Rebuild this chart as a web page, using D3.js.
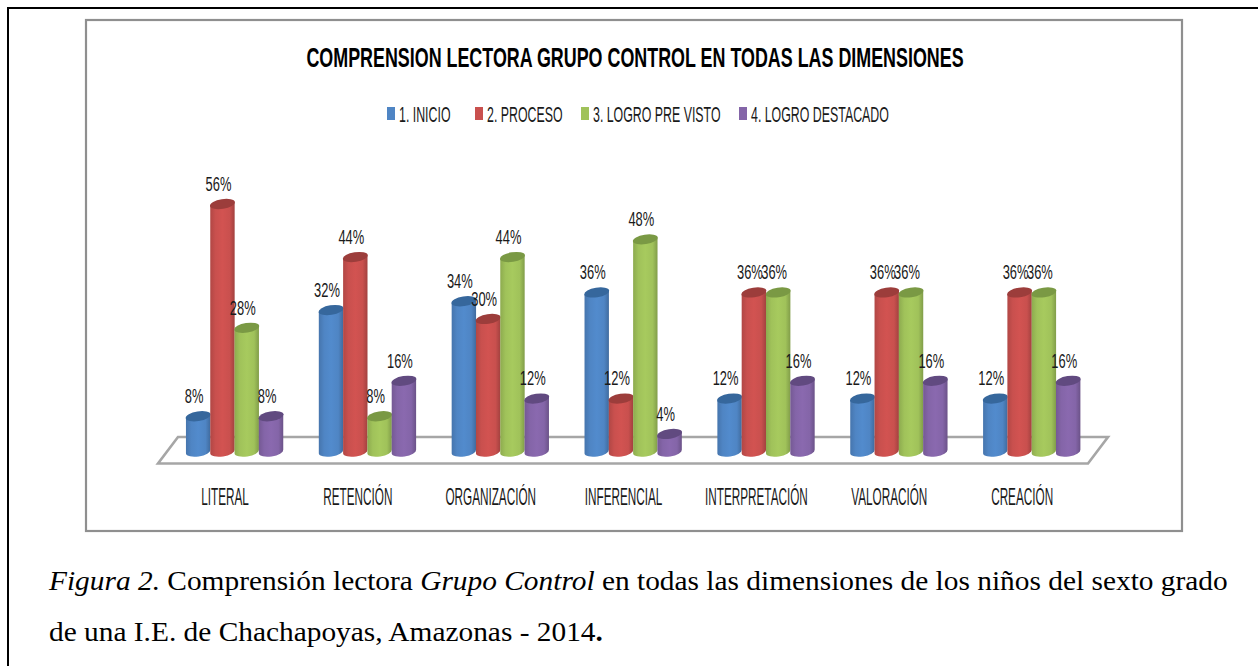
<!DOCTYPE html>
<html>
<head>
<meta charset="utf-8">
<script src="https://cdn.jsdelivr.net/npm/d3@7"></script>
<style>
  html, body { margin: 0; padding: 0; background: #fff; overflow: hidden; }
  svg { display: block; }
  .narrow { font-family: "Liberation Sans", sans-serif; }
  .caption { font-family: "Liberation Serif", serif; font-size: 26.5px; fill: #000; }
</style>
</head>
<body>
<div id="chart"></div>
<script>
// datos
const categories = ["LITERAL", "RETENCIÓN", "ORGANIZACIÓN", "INFERENCIAL", "INTERPRETACIÓN", "VALORACIÓN", "CREACIÓN"];
const seriesNames = ["1. INICIO", "2. PROCESO", "3. LOGRO PRE VISTO", "4. LOGRO DESTACADO"];
const inicio = [8, 32, 34, 36, 12, 12, 12];
const proceso = [56, 44, 30, 12, 36, 36, 36];
const logro = [28, 8, 44, 48, 36, 36, 36];
const destacado = [8, 16, 12, 4, 16, 16, 16];
const allSeries = [inicio, proceso, logro, destacado];
const colors = ["#4f85c4", "#c9504e", "#a0c25a", "#8465a8"];
const darkTops = ["#36679c", "#9c3d3b", "#7a9944", "#614a80"];

const W = 1258, H = 666;
const svg = d3.select("#chart").append("svg").attr("width", W).attr("height", H);
const defs = svg.append("defs");

// texto condensado: no hay fuente narrow instalada, se comprime en x
function narrowText(px, py, sx, size, str, anchor) {
    return svg.append("text").attr("class", "narrow")
        .attr("transform", `translate(${px},${py}) scale(${sx},1)`)
        .attr("text-anchor", anchor || "middle")
        .attr("font-size", size)
        .attr("fill", "#1a1a1a")
        .text(str);
}

// gradiente horizontal para simular el cilindro
colors.forEach((c, i) => {
    const g = defs.append("linearGradient").attr("id", "cyl" + i);
    const base = d3.color(c);
    g.append("stop").attr("offset", "0%").attr("stop-color", base.darker(0.35));
    g.append("stop").attr("offset", "22%").attr("stop-color", base);
    g.append("stop").attr("offset", "50%").attr("stop-color", base.brighter(0.12));
    g.append("stop").attr("offset", "80%").attr("stop-color", base);
    g.append("stop").attr("offset", "100%").attr("stop-color", base.darker(0.6));
});

// marcos
svg.append("rect").attr("x", 8).attr("y", 8).attr("width", W + 20).attr("height", H + 20)
    .attr("fill", "none").attr("stroke", "#000").attr("stroke-width", 2);
svg.append("rect").attr("x", 86).attr("y", 20).attr("width", 1096).attr("height", 511)
    .attr("fill", "#fff").attr("stroke", "#8f8f8f").attr("stroke-width", 2.2);

// escalas
const x = d3.scaleBand().domain(categories).range([158, 1088]).paddingInner(0).paddingOuter(0);
const xInner = d3.scaleBand().domain(d3.range(4)).range([0, 97.2]);
const groupOffset = 28;
const y = d3.scaleLinear().domain([0, 56]).range([451.6, 204]);

// piso
const floorPts = [[158, 463.5], [1088, 463.5], [1108, 437], [178, 437]];
svg.append("path").attr("d", d3.line()(floorPts) + "Z")
    .attr("fill", "#fff").attr("stroke", "#a6a6a6").attr("stroke-width", 2.6);

// cilindros
const rx = 12.2, ry = 4.8;
const tilt = -9;
const dy = rx * Math.sin(tilt * Math.PI / 180);
categories.forEach((cat, ci) => {
    allSeries.forEach((vals, si) => {
        const left = x(cat) + groupOffset + xInner(si);
        const cx = left + xInner.bandwidth() / 2;
        const top = y(vals[ci]);
        const bottom = y(0);
        svg.append("path")
            .attr("d", `M${cx - rx},${top - dy} L${cx - rx},${bottom - dy} A${rx},${ry} ${tilt} 0 0 ${cx + rx},${bottom + dy} L${cx + rx},${top + dy} Z`)
            .attr("fill", `url(#cyl${si})`);
        svg.append("ellipse")
            .attr("cx", cx).attr("cy", top).attr("rx", rx + 0.4).attr("ry", ry)
            .attr("transform", `rotate(${tilt} ${cx} ${top})`)
            .attr("fill", darkTops[si]);
    });
});

// etiquetas encima de las barras
categories.forEach((cat, ci) => {
    allSeries.forEach((vals, si) => {
        const cx = x(cat) + groupOffset + xInner(si) + xInner.bandwidth() / 2;
        narrowText(cx - 4, y(vals[ci]) - 13.3, 0.63, 20.5, vals[ci] + "%");
    });
    narrowText(x(cat) + groupOffset + 39, 504.5, 0.5, 23.5, cat);
});

// titulo
narrowText(635, 66.5, 0.628, 28.5, "COMPRENSION LECTORA GRUPO CONTROL EN TODAS LAS DIMENSIONES")
    .attr("font-weight", "bold").attr("fill", "#000");

// leyenda
const legendSquareX = [387, 475, 581, 739];
const legendTextX = [399, 487, 593, 751];
seriesNames.forEach((name, i) => {
    svg.append("rect").attr("x", legendSquareX[i]).attr("y", 107).attr("width", 8).attr("height", 13).attr("fill", colors[i]);
    narrowText(legendTextX[i], 121.5, 0.55, 22.5, name, "start");
});

// pie de figura
const cap1 = svg.append("text").attr("class", "caption")
    .attr("transform", "translate(49,590) scale(1.109,1)");
cap1.append("tspan").attr("font-style", "italic").text("Figura 2.");
cap1.append("tspan").text(" Comprensión lectora ");
cap1.append("tspan").attr("font-style", "italic").text("Grupo Control");
cap1.append("tspan").text(" en todas las dimensiones de los niños del sexto grado");
const cap2 = svg.append("text").attr("class", "caption")
    .attr("transform", "translate(49,641) scale(1.109,1)");
cap2.append("tspan").text("de una I.E. de Chachapoyas, Amazonas - 2014");
cap2.append("tspan").attr("font-weight", "bold").text(".");
</script>
</body>
</html>
